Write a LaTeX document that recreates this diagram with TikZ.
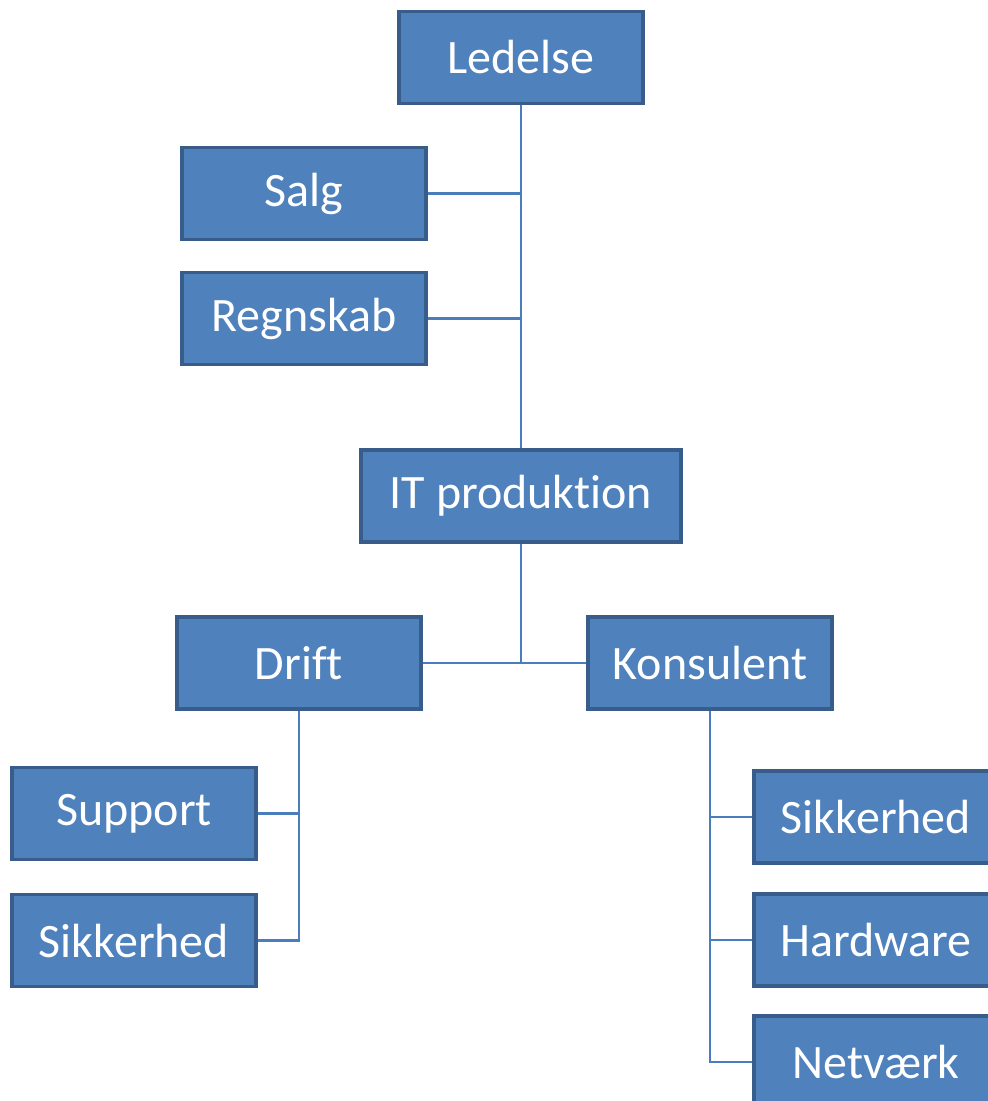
\documentclass[tikz,border=0pt]{standalone}
\usepackage{fontspec}
\setmainfont[Ligatures={NoCommon}]{Carlito}
\definecolor{boxfill}{HTML}{4F81BD}
\definecolor{boxline}{HTML}{385D8A}
\definecolor{linkcol}{HTML}{4A7EBB}
\begin{document}
\begin{tikzpicture}[x=1pt,y=-1pt,
  orgbox/.style={draw=boxline,line width=3.5pt,fill=boxfill,minimum width=244pt,minimum height=92pt,inner sep=0pt,text=white,font=\fontsize{48}{52}\selectfont},
  link/.style={draw=linkcol,line width=2.2pt}]
\useasboundingbox (0,0) rectangle (988,1101);
\node[orgbox] (led) at (521,57.5) {Ledelse};
\node[orgbox] (salg) at (304,193.5) {Salg};
\node[orgbox] (regn) at (304,318.5) {Regnskab};
\node[orgbox,minimum width=320pt] (itp) at (521,496) {IT produktion};
\node[orgbox] (drift) at (299,663) {Drift};
\node[orgbox] (kons) at (710,663) {Konsulent};
\node[orgbox] (supp) at (134,813.5) {Support};
\node[orgbox] (sik1) at (134,940.5) {Sikkerhed};
\node[orgbox] (sik2) at (876,817) {Sikkerhed};
\node[orgbox] (hw) at (876,940) {Hardware};
\node[orgbox] (net) at (876,1062) {Netværk};
\coordinate (j1) at (led.south |- salg.east);
\coordinate (j2) at (led.south |- regn.east);
\coordinate (j3) at (itp.south |- drift.east);
\draw[link] (led.south) -- (itp.north);
\draw[link] (salg.east) -- (j1);
\draw[link] (regn.east) -- (j2);
\draw[link] (itp.south) -- (j3);
\draw[link] (drift.east) -- (kons.west);
\draw[link] (drift.south) |- (supp.east);
\draw[link] (drift.south) |- (sik1.east);
\draw[link] (kons.south) |- (sik2.west);
\draw[link] (kons.south) |- (hw.west);
\draw[link] (kons.south) |- (net.west);
\end{tikzpicture}
\end{document}
